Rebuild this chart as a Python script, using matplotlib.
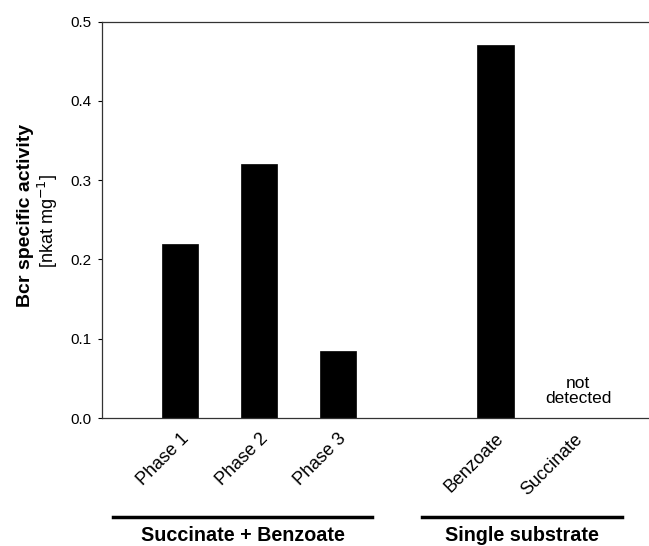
import matplotlib.pyplot as plt

plt.rcParams['font.family'] = ['Liberation Sans', 'DejaVu Sans']

# dados
categorias = ['Phase 1', 'Phase 2', 'Phase 3', 'Benzoate', 'Succinate']
posicoes = [1, 2, 3, 5, 6]
atividade = [0.22, 0.32, 0.085, 0.47, 0.0]
grupos = ['Succinate + Benzoate', 'Single substrate']
grupo_inicio = [0.15, 4.07]
grupo_fim = [3.44, 6.61]

fig = plt.figure(figsize=(6.49, 5.46), dpi=100)
ax = fig.add_axes([0.1564, 0.2344, 0.8436, 0.7262])

ax.bar(posicoes, atividade, width=0.46, color='black', edgecolor='black', linewidth=0.5)

ax.set_xlim(0, 6.95)
ax.set_ylim(0, 0.5)
ax.set_yticks([0.0, 0.1, 0.2, 0.3, 0.4, 0.5])
ax.set_yticklabels(['0.0', '0.1', '0.2', '0.3', '0.4', '0.5'], fontsize=11)
ax.tick_params(axis='y', direction='out', length=3, width=0.8, pad=4)
ax.set_xticks(posicoes)
ax.set_xticklabels(categorias, rotation=45, ha='right', rotation_mode='anchor', fontsize=13)
ax.tick_params(axis='x', length=0, pad=9)

ax.spines['right'].set_visible(False)
for lado in ['top', 'left', 'bottom']:
    ax.spines[lado].set_linewidth(0.9)
    ax.spines[lado].set_color('#333333')

# rotulo do eixo y: primeira linha em negrito
fig.text(0.039, 0.606, 'Bcr specific activity', rotation=90, fontsize=14, fontweight='bold',
         ha='center', va='center')
fig.text(0.074, 0.595, r'[nkat mg$^{-1}$]', rotation=90, fontsize=13,
         ha='center', va='center')

# texto "not detected" sobre a posicao do succinato
ax.text(posicoes[4] + 0.05, 0.015, 'not\ndetected', ha='center', va='bottom', fontsize=12.5,
        linespacing=1.05)

# linhas e nomes dos grupos abaixo dos rotulos
for nome, x0, x1 in zip(grupos, grupo_inicio, grupo_fim):
    ax.plot([x0, x1], [-0.25, -0.25], color='black', linewidth=2.5,
            transform=ax.get_xaxis_transform(), clip_on=False)
    ax.text((x0 + x1) / 2, -0.309, nome, ha='center', va='baseline', fontsize=14.2,
            fontweight='bold', transform=ax.get_xaxis_transform())

fig.savefig('out.png', dpi=100)
